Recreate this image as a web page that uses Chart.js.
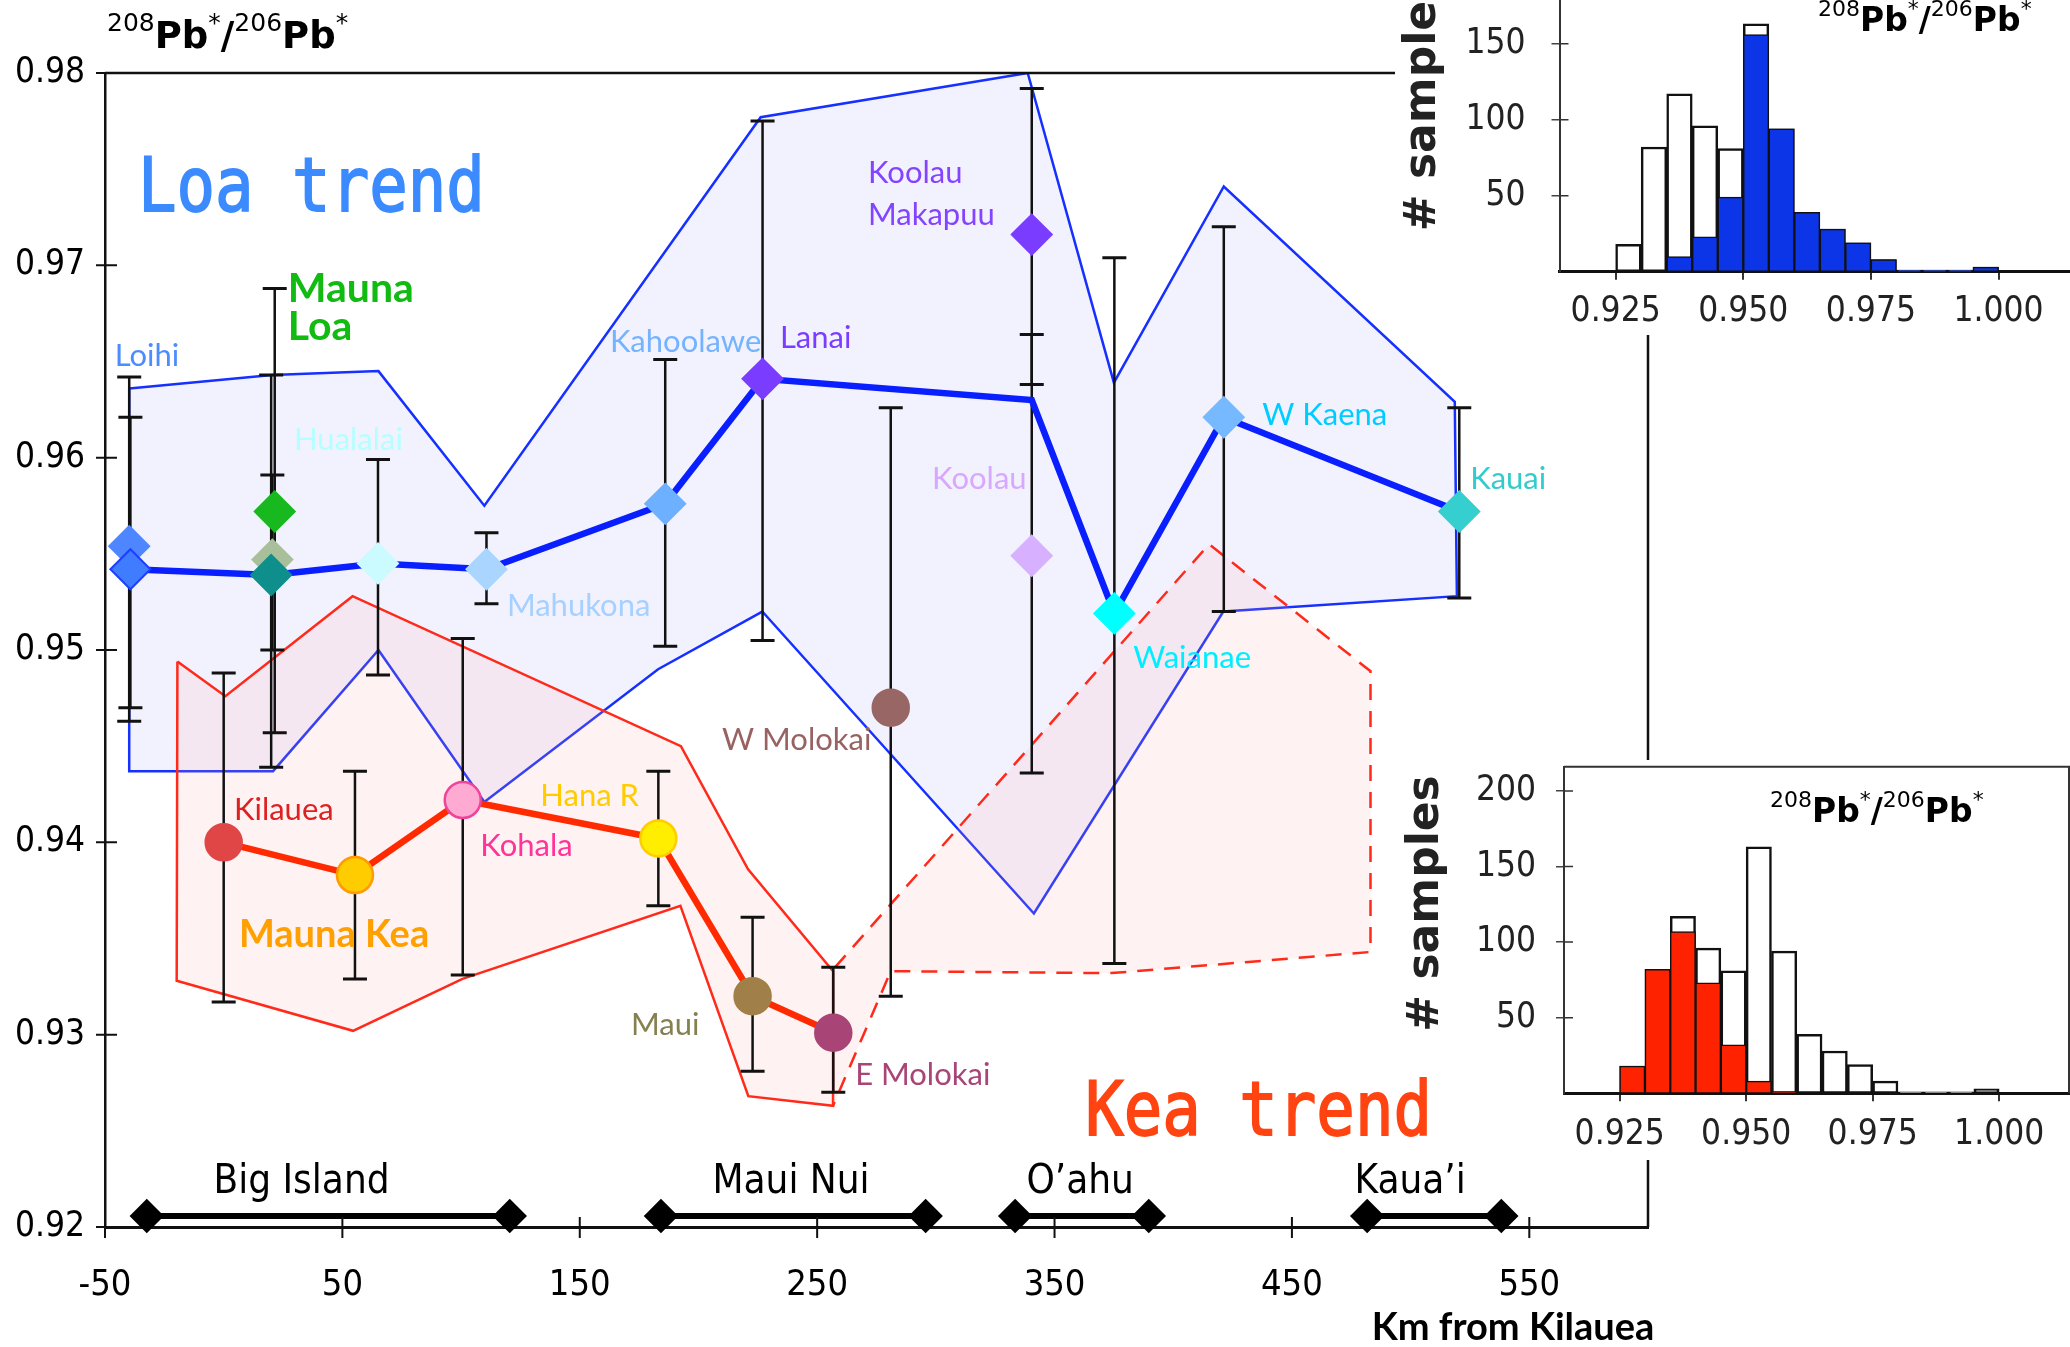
<!DOCTYPE html>
<html>
<head>
<meta charset="utf-8">
<script src="https://cdn.jsdelivr.net/npm/chart.js@4.4.1/dist/chart.umd.min.js"></script>
<style>
  html, body { margin: 0; padding: 0; background: #fff; }
  #wrap { position: relative; width: 2070px; height: 1347px; overflow: hidden; background: #fff; }
  .box { position: absolute; }
</style>
</head>
<body>
<div id="wrap">
  <div class="box" style="left:0;top:0;width:2070px;height:1347px"><canvas id="main"></canvas></div>
  <div class="box" style="left:1390px;top:0;width:680px;height:340px"><canvas id="histLoa"></canvas></div>
  <div class="box" style="left:1390px;top:740px;width:680px;height:440px"><canvas id="histKea"></canvas></div>
</div>
<script>
// ---- axis ticks ----
const xTicks = [-50, 50, 150, 250, 350, 450, 550];
const yTicks = [0.92, 0.93, 0.94, 0.95, 0.96, 0.97, 0.98];

// ---- Loa-trend volcanoes (diamonds) ----
const loaNames = ['Loihi', 'Loihi', 'Mauna Loa', 'Mauna Loa', 'Mauna Loa', 'Hualalai', 'Mahukona',
                  'Kahoolawe', 'Lanai', 'Koolau Makapuu', 'Koolau', 'Waianae', 'W Kaena', 'Kauai'];
const loaKm    = [-39.8, -39.3, 21.5, 20.5, 20.0, 65.0, 110.7, 186.0, 227.0, 340.4, 340.4, 375.2, 421.3, 520.5];
const loaRatio = [0.9554, 0.9542, 0.9572, 0.9547, 0.9539, 0.9545, 0.9542, 0.9576, 0.9641, 0.9716, 0.9549, 0.9519, 0.9621, 0.9572];
const loaLow   = [0.9463, 0.9470, 0.9457, 0.9500, 0.9439, 0.9487, 0.9524, 0.9502, 0.9505, 0.9638, 0.9436, 0.9337, 0.9520, 0.9527];
const loaHigh  = [0.9642, 0.9621, 0.9688, 0.9591, 0.9643, 0.9599, 0.9561, 0.9651, 0.9775, 0.9792, 0.9664, 0.9704, 0.9720, 0.9626];

// ---- Kea-trend volcanoes (circles) ----
const keaNames = ['Kilauea', 'Mauna Kea', 'Kohala', 'Hana R', 'Maui', 'E Molokai', 'W Molokai'];
const keaKm    = [0.0, 55.3, 100.7, 183.1, 222.8, 256.8, 281.0];
const keaRatio = [0.9400, 0.9383, 0.9422, 0.9402, 0.9320, 0.9301, 0.9470];
const keaLow   = [0.9317, 0.9329, 0.9331, 0.9367, 0.9281, 0.9270, 0.9320];
const keaHigh  = [0.9488, 0.9437, 0.9506, 0.9437, 0.9361, 0.9335, 0.9626];

// ---- trend lines ----
const loaTrendKm    = [-39.3, 20.0, 65.0, 110.7, 186.0, 227.0, 340.4, 375.2, 421.3, 520.5];
const loaTrendRatio = [0.9542, 0.9539, 0.9545, 0.9542, 0.9576, 0.9641, 0.9630, 0.9519, 0.9621, 0.9572];
const keaTrendKm    = [0.0, 55.3, 100.7, 183.1, 222.8, 256.8];
const keaTrendRatio = [0.9400, 0.9383, 0.9422, 0.9402, 0.9320, 0.9301];

// ---- fields ----
const loaFieldKm    = [-39.8, 20.4, 65.2, 109.8, 226.2, 338.7, 375.0, 421.3, 518.6, 519.5, 421.1, 341.3, 226.9, 183.0, 109.8, 65.2, 20.8, -39.8, -39.8];
const loaFieldRatio = [0.9636, 0.9643, 0.9645, 0.9575, 0.9777, 0.9800, 0.9639, 0.9741, 0.9629, 0.9528, 0.9520, 0.9363, 0.9520, 0.9490, 0.9421, 0.9500, 0.9437, 0.9437, 0.9636];
const keaFieldKm    = [-19.5, 0.7, 54.3, 192.6, 220.9, 256.7, 256.7, 221.0, 192.4, 100.6, 54.5, -19.8, -19.5];
const keaFieldRatio = [0.9494, 0.9476, 0.9528, 0.9450, 0.9386, 0.9333, 0.9263, 0.9268, 0.9367, 0.9329, 0.9302, 0.9328, 0.9494];
const keaDashKm     = [257.5, 415.1, 483.1, 483.1, 373.9, 281.0, 261.2, 256.7];
const keaDashRatio  = [0.9335, 0.9555, 0.9489, 0.9343, 0.9332, 0.9333, 0.9276, 0.9263];

// ---- island chains along the axis ----
const islandNames = ['Big Island', 'Maui Nui', 'O’ahu', 'Kaua’i'];
const islandStart = [-32.4, 184.2, 333.4, 481.7];
const islandEnd   = [120.5, 295.7, 389.7, 538.2];
const islandMid   = [32.8, 239.0, 360.8, 499.8];

// ---- histograms ----
const binCenters = [0.9275, 0.9325, 0.9375, 0.9425, 0.9475, 0.9525, 0.9575, 0.9625, 0.9675, 0.9725, 0.9775, 0.9825, 0.9875, 0.9925, 0.9975];
const allCounts  = [18, 82, 117, 96, 81, 163, 94, 39, 28, 19, 8, 1, 1, 1, 3];
const loaCounts  = [0, 0, 10, 23, 49, 156, 94, 39, 28, 19, 8, 1, 1, 1, 3];
const keaCounts  = [18, 82, 107, 73, 32, 8, 1, 0, 0, 0, 0, 0, 0, 0, 0];
const histXTicks = [0.925, 0.95, 0.975, 1.0];

// ---- styles ----
const NARROW = '"DejaVu Sans Condensed", "Liberation Sans Narrow", Roboto, sans-serif';
const SANS = '"DejaVu Sans", sans-serif';
const HAND = 'Lato, "Open Sans", sans-serif';
const MONO = '"DejaVu Sans Mono", monospace';

const loaFill = ['#4d86ff', '#3f7cff', '#18b81f', '#a9bf9b', '#0f8f8c', '#ccfbff', '#a9d5ff',
                 '#6cb0ff', '#7a3cff', '#7a3cff', '#d7b0ff', '#00ffff', '#76b9ff', '#36cfcf'];
const loaEdge = ['#4d86ff', '#1c3fff', '#18b81f', '#a9bf9b', '#0f8f8c', '#ccfbff', '#a9d5ff',
                 '#6cb0ff', '#7a3cff', '#7a3cff', '#d7b0ff', '#00ffff', '#76b9ff', '#36cfcf'];
const keaFill = ['#e04646', '#ffcc00', '#ffaad2', '#ffee00', '#a08048', '#a94576', '#996666'];
const keaEdge = ['#e04646', '#ff9a00', '#ee4499', '#ffcc00', '#a08048', '#a94576', '#996666'];

// volcano name labels (anchor: left edge, vertical middle, in data units)
const nameLabels = [
  { t: 'Loihi',     km: -45.9, r: 0.9653, c: '#4d8cff' },
  { t: 'Mauna',     km: 27.0,  r: 0.9688, c: '#11bb11', bold: true, size: 41 },
  { t: 'Loa',       km: 27.0,  r: 0.9668, c: '#11bb11', bold: true, size: 41 },
  { t: 'Hualalai',  km: 29.6,  r: 0.9609, c: '#b4ffff' },
  { t: 'Mahukona',  km: 119.3, r: 0.9523, c: '#a6d0ff' },
  { t: 'Kahoolawe', km: 162.7, r: 0.9660, c: '#74b4ff' },
  { t: 'Lanai',     km: 234.3, r: 0.9662, c: '#7a3cff' },
  { t: 'Koolau',    km: 271.4, r: 0.9748, c: '#8444ff' },
  { t: 'Makapuu',   km: 271.4, r: 0.9726, c: '#8444ff' },
  { t: 'Koolau',    km: 298.4, r: 0.9589, c: '#d8a8ff' },
  { t: 'W Molokai', km: 209.9, r: 0.9453, c: '#996262' },
  { t: 'Waianae',   km: 383.2, r: 0.9496, c: '#00eeff' },
  { t: 'W Kaena',   km: 437.5, r: 0.9622, c: '#00ccff' },
  { t: 'Kauai',     km: 525.1, r: 0.9589, c: '#33cccc' },
  { t: 'Kilauea',   km: 4.3,   r: 0.9417, c: '#dd2020' },
  { t: 'Mauna Kea', km: 6.4,   r: 0.9352, c: '#ffa000', bold: true, size: 38 },
  { t: 'Kohala',    km: 108.1, r: 0.9398, c: '#ff3399' },
  { t: 'Hana R',    km: 133.4, r: 0.9424, c: '#ffcc00' },
  { t: 'Maui',      km: 171.6, r: 0.9305, c: '#858050' },
  { t: 'E Molokai', km: 266.0, r: 0.9279, c: '#a94576' }
];

const pts = (xs, ys) => xs.map((x, i) => ({ x, y: ys[i] }));

function drawPbRatio(ctx, x, y, big, small){
  const parts = [['208', 1], ['Pb', 0], ['*', 1], ['/', 0], ['206', 1], ['Pb', 0], ['*', 1]];
  let cx = x;
  ctx.textAlign = 'left';
  ctx.textBaseline = 'alphabetic';
  for(const [t, sup] of parts){
    ctx.font = sup ? `${small}px ${SANS}` : `bold ${big}px ${SANS}`;
    ctx.fillText(t, cx, sup ? y - big * 0.46 : y);
    cx += ctx.measureText(t).width;
  }
}

// error bars, drawn just before the trend lines
const errorBars = {
  id: 'errorBars',
  beforeDatasetDraw(chart, args){
    if(chart.data.datasets[args.index].label !== 'Kea mean') return;
    const { ctx, scales: { x, y } } = chart;
    ctx.save();
    ctx.strokeStyle = '#111';
    const draw = (km, lo, hi) => km.forEach((k, i) => {
      const px = x.getPixelForValue(k);
      const y1 = y.getPixelForValue(lo[i]);
      const y2 = y.getPixelForValue(hi[i]);
      ctx.lineWidth = 2.5;
      ctx.beginPath(); ctx.moveTo(px, y1); ctx.lineTo(px, y2); ctx.stroke();
      ctx.lineWidth = 3;
      ctx.beginPath();
      ctx.moveTo(px - 12, y1); ctx.lineTo(px + 12, y1);
      ctx.moveTo(px - 12, y2); ctx.lineTo(px + 12, y2);
      ctx.stroke();
    });
    draw(loaKm, loaLow, loaHigh);
    draw(keaKm, keaLow, keaHigh);
    ctx.restore();
  }
};

const annotations = {
  id: 'annotations',
  afterDatasetsDraw(chart){
    const { ctx, scales: { x, y } } = chart;
    ctx.save();
    ctx.textAlign = 'left';
    ctx.textBaseline = 'middle';
    nameLabels.forEach(l => {
      ctx.font = `${l.bold ? 'bold ' : ''}${l.size || 31}px ${HAND}`;
      ctx.fillStyle = l.c;
      ctx.fillText(l.t, x.getPixelForValue(l.km), y.getPixelForValue(l.r));
    });
    // island chain names
    ctx.fillStyle = '#000';
    ctx.textAlign = 'center';
    ctx.font = `40px ${NARROW}`;
    islandNames.forEach((n, i) => ctx.fillText(n, x.getPixelForValue(islandMid[i]), y.getPixelForValue(0.9223)));
    // trend names
    const big = (t, km, r, col) => {
      ctx.save();
      ctx.translate(x.getPixelForValue(km), y.getPixelForValue(r));
      ctx.scale(1, 1.18);
      ctx.font = `64px ${MONO}`;
      ctx.fillStyle = col;
      ctx.strokeStyle = col;
      ctx.lineWidth = 1.5;
      ctx.textAlign = 'left';
      ctx.textBaseline = 'alphabetic';
      ctx.fillText(t, 0, 0);
      ctx.strokeText(t, 0, 0);
      ctx.restore();
    };
    big('Loa trend', -36.1, 0.9728, '#3b8bff');
    big('Kea trend', 362.9, 0.9248, '#ff4411');
    ctx.restore();
  },
  afterDraw(chart){
    const { ctx, chartArea: a, scales: { x, y } } = chart;
    ctx.save();
    ctx.strokeStyle = '#111';
    ctx.lineWidth = 2;
    ctx.beginPath();
    yTicks.forEach(v => { const py = y.getPixelForValue(v); ctx.moveTo(a.left - 9, py); ctx.lineTo(a.left + 12, py); });
    xTicks.forEach(v => { const px = x.getPixelForValue(v); ctx.moveTo(px, a.bottom - 10); ctx.lineTo(px, a.bottom + 11); });
    ctx.stroke();
    ctx.lineWidth = 2.5;
    ctx.beginPath();
    ctx.moveTo(a.left, a.top); ctx.lineTo(a.right, a.top); ctx.lineTo(a.right, a.bottom);
    ctx.stroke();
    ctx.fillStyle = '#000';
    drawPbRatio(ctx, a.left + 2, a.top - 25, 37, 25);
    ctx.font = `bold 38px ${HAND}`;
    ctx.textAlign = 'center';
    ctx.textBaseline = 'middle';
    ctx.fillText('Km from Kilauea', a.right - 135, a.bottom + 101);
    ctx.restore();
  }
};

const islandSets = islandNames.map((n, i) => ({
  label: n,
  data: [{ x: islandStart[i], y: 0.92057 }, { x: islandEnd[i], y: 0.92057 }],
  showLine: true, borderColor: '#000', borderWidth: 6,
  pointStyle: 'rectRot', pointRadius: 13, pointBackgroundColor: '#000', pointBorderColor: '#000',
  clip: false, order: 9
}));

new Chart(document.getElementById('main'), {
  type: 'scatter',
  data: {
    datasets: [
      { label: 'Loa field', data: pts(loaFieldKm, loaFieldRatio), showLine: true, fill: 'shape',
        borderColor: '#1530ff', borderWidth: 2.5, backgroundColor: 'rgba(175,175,250,0.16)',
        pointRadius: 0, order: 13 },
      { label: 'Kea field', data: pts(keaFieldKm, keaFieldRatio), showLine: true, fill: 'shape',
        borderColor: '#ff2a1a', borderWidth: 2.5, backgroundColor: 'rgba(255,170,170,0.15)',
        pointRadius: 0, order: 12 },
      { label: 'Kea field (dashed)', data: pts(keaDashKm, keaDashRatio), showLine: true, fill: 'shape',
        borderColor: '#ff2a1a', borderWidth: 2.5, borderDash: [16, 11], backgroundColor: 'rgba(255,170,170,0.15)',
        pointRadius: 0, order: 11 },
      ...islandSets,
      { label: 'Kea mean', data: pts(keaTrendKm, keaTrendRatio), showLine: true,
        borderColor: '#ff2a00', borderWidth: 6.5, pointRadius: 0, order: 6 },
      { label: 'Loa mean', data: pts(loaTrendKm, loaTrendRatio), showLine: true,
        borderColor: '#0a1fff', borderWidth: 6.5, pointRadius: 0, order: 5 },
      { label: 'Loa volcanoes', data: pts(loaKm, loaRatio), pointStyle: 'rectRot', pointRadius: 20,
        pointBackgroundColor: loaFill, pointBorderColor: loaEdge, pointBorderWidth: 2, order: 2 },
      { label: 'Kea volcanoes', data: pts(keaKm, keaRatio), pointStyle: 'circle', pointRadius: 18,
        pointBackgroundColor: keaFill, pointBorderColor: keaEdge, pointBorderWidth: 2.5, order: 1 }
    ]
  },
  options: {
    responsive: true,
    maintainAspectRatio: false,
    animation: false,
    layout: { padding: { top: 73, right: 422, bottom: 0, left: 0 } },
    plugins: { legend: { display: false }, tooltip: { enabled: false } },
    scales: {
      x: {
        type: 'linear', min: -50, max: 600,
        afterBuildTicks: s => { s.ticks = xTicks.map(v => ({ value: v })); },
        afterFit: s => { s.height = 120; s.paddingLeft = 0; s.paddingRight = 0; },
        grid: { display: false },
        border: { display: true, color: '#111', width: 3 },
        ticks: { padding: 29, color: '#000', font: { family: NARROW, size: 36 }, maxRotation: 0, autoSkip: false,
                 callback: v => String(v) }
      },
      y: {
        min: 0.92, max: 0.98,
        afterBuildTicks: s => { s.ticks = yTicks.map(v => ({ value: v })); },
        afterFit: s => { s.width = 105; s.paddingTop = 0; s.paddingBottom = 0; },
        grid: { display: false },
        border: { display: true, color: '#111', width: 2.5 },
        ticks: { padding: 12, color: '#000', font: { family: NARROW, size: 35 }, callback: v => v.toFixed(2) }
      }
    }
  },
  plugins: [errorBars, annotations]
});

// ---- inset histograms ----
function histChart(canvasId, front, frontColor, box){
  const insetDeco = {
    id: 'insetDeco',
    beforeDraw(chart){
      const { ctx } = chart;
      ctx.save();
      ctx.fillStyle = '#fff';
      box.white.forEach(r => ctx.fillRect(r[0], r[1], r[2], r[3]));
      ctx.restore();
    },
    afterDraw(chart){
      const { ctx, chartArea: a, scales: { y } } = chart;
      ctx.save();
      ctx.strokeStyle = '#333';
      ctx.lineWidth = 1.5;
      ctx.beginPath();
      box.yTicks.forEach(v => { const py = y.getPixelForValue(v); ctx.moveTo(a.left, py); ctx.lineTo(a.left + 9, py); });
      ctx.stroke();
      if(box.frame){
        ctx.lineWidth = 2;
        ctx.beginPath();
        ctx.moveTo(a.left, a.top); ctx.lineTo(a.right - 1, a.top); ctx.lineTo(a.right - 1, a.bottom);
        ctx.stroke();
      }
      ctx.fillStyle = '#222';
      ctx.save();
      ctx.translate(box.ylab[0], box.ylab[1]);
      ctx.rotate(-Math.PI / 2);
      ctx.font = `bold 44px ${SANS}`;
      ctx.textAlign = 'center';
      ctx.textBaseline = 'middle';
      ctx.fillText('# samples', 0, 0);
      ctx.restore();
      ctx.fillStyle = '#000';
      drawPbRatio(ctx, box.title[0], box.title[1], 33, 22);
      ctx.restore();
    }
  };
  const barOpts = { borderColor: '#111', borderSkipped: false, grouped: false, barPercentage: 1, categoryPercentage: 1 };
  return new Chart(document.getElementById(canvasId), {
    type: 'bar',
    data: {
      datasets: [
        { ...barOpts, data: pts(binCenters, front), backgroundColor: frontColor, borderWidth: 1.5 },
        { ...barOpts, data: pts(binCenters, allCounts), backgroundColor: '#fff', borderWidth: 2.5 }
      ]
    },
    options: {
      responsive: true,
      maintainAspectRatio: false,
      animation: false,
      layout: { padding: { top: box.top, left: 0, right: 0, bottom: 0 } },
      plugins: { legend: { display: false }, tooltip: { enabled: false } },
      scales: {
        x: {
          type: 'linear', offset: false, min: 0.914, max: 1.014,
          afterBuildTicks: s => { s.ticks = histXTicks.map(v => ({ value: v })); },
          afterFit: s => { s.height = box.xh; s.paddingLeft = 0; s.paddingRight = 0; },
          grid: { display: true, drawOnChartArea: false, offset: false, tickLength: 8, color: '#333', lineWidth: 2 },
          border: { display: true, color: '#111', width: 3 },
          ticks: { padding: box.xpad, color: '#222', font: { family: NARROW, size: 35 }, maxRotation: 0, autoSkip: false,
                   callback: v => v.toFixed(3) }
        },
        y: {
          min: 0, max: box.ymax,
          afterBuildTicks: s => { s.ticks = box.yTicks.map(v => ({ value: v })); },
          afterFit: s => { s.width = box.yw; s.paddingTop = 0; s.paddingBottom = 0; },
          grid: { display: true, drawOnChartArea: false, tickLength: 8, color: '#444', lineWidth: 1.5 },
          border: { display: true, color: '#333', width: 2 },
          ticks: { padding: box.ypad, color: '#222', font: { family: NARROW, size: 35 } }
        }
      }
    },
    plugins: [insetDeco]
  });
}

histChart('histLoa', loaCounts, '#0b35e6', {
  top: 0, xh: 68.3, yw: 169.5, ymax: 178.7, yTicks: [50, 100, 150], xpad: 11, ypad: 26,
  white: [[5, 0, 675, 335]], frame: false, ylab: [34, 103], title: [428, 31]
});
histChart('histKea', keaCounts, '#ff2200', {
  top: 26.7, xh: 86.7, yw: 174, ymax: 216, yTicks: [50, 100, 150, 200], xpad: 13, ypad: 20,
  white: [[5, 20, 675, 310], [55, 330, 625, 90]], frame: true, ylab: [37, 163.5], title: [380, 82]
});
</script>
</body>
</html>
